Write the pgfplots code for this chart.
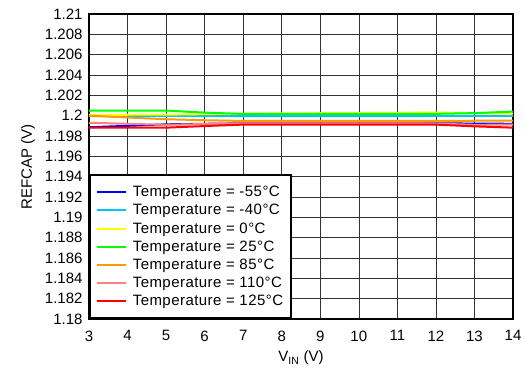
\documentclass[border=0pt]{standalone}
\usepackage{pgfplots}
\pgfplotsset{compat=1.18}
\usepackage{fontspec}
\setmainfont{Liberation Sans}
\definecolor{cBlue}{RGB}{0,0,255}
\definecolor{cCyan}{RGB}{0,195,255}
\definecolor{cYellow}{RGB}{255,255,0}
\definecolor{cGreen}{RGB}{0,255,0}
\definecolor{cOrange}{RGB}{255,153,0}
\definecolor{cPink}{RGB}{255,128,128}
\definecolor{cRed}{RGB}{255,0,0}
\begin{document}
\begin{tikzpicture}
\useasboundingbox (-89pt,-50pt) rectangle (435pt,319pt);
\begin{axis}[
  scale only axis,
  at={(0pt,0pt)}, anchor=south west,
  width=424pt, height=305pt,
  xmin=3, xmax=14, ymin=1.18, ymax=1.21,
  xtick={3,...,14},
  ytick={1.18,1.182,...,1.2101},
  grid=major,
  major grid style={black!80, line width=0.6pt},
  axis line style={line width=1.6pt},
  major tick length=0pt,
  tick label style={font=\fontsize{15}{18}\selectfont},
  xticklabel style={yshift=-8pt},
  yticklabel style={xshift=-3pt},
  /pgf/number format/assume math mode=true,
  /pgf/number format/precision=3,
  xlabel={V\textsubscript{IN} (V)},
  ylabel={REFCAP (V)},
  label style={font=\fontsize{15}{18}\selectfont},
  xlabel style={at={(axis description cs:0.5,0)}, anchor=center, yshift=-39pt},
  ylabel style={at={(axis description cs:0,0.5)}, anchor=center, yshift=61pt},
  legend style={at={(rel axis cs:0,0)}, anchor=south west, draw=black, line width=1.6pt,
    font=\fontsize{15}{17.8}\selectfont\addfontfeature{LetterSpace=3}, inner xsep=6pt, inner ysep=9pt,
    row sep=2.2pt, column sep=4pt, cells={anchor=west}},
  legend cell align=left,
  legend image code/.code={\draw[#1, line width=2pt] (0pt,0pt) -- (29pt,0pt);},
  every axis plot/.append style={line width=2pt},
]
\addplot[cBlue] coordinates {(3,1.19886)(4,1.19900)(5,1.19915)(6,1.19920)(7,1.19925)(8,1.19925)(9,1.19925)(10,1.19925)(11,1.19925)(12,1.19925)(13,1.19922)(14,1.19920)};
\addlegendentry{Temperature = -55°C}
\addplot[cCyan] coordinates {(3,1.19995)(4,1.19996)(5,1.19997)(6,1.19996)(7,1.19995)(8,1.19995)(9,1.19995)(10,1.19996)(11,1.19996)(12,1.19997)(13,1.19998)(14,1.19998)};
\addlegendentry{Temperature = -40°C}
\addplot[cYellow] coordinates {(3,1.20007)(4,1.20009)(5,1.20010)(6,1.20015)(7,1.20020)(8,1.20022)(9,1.20024)(10,1.20026)(11,1.20028)(12,1.20030)(13,1.20025)(14,1.20020)};
\addlegendentry{Temperature = 0°C}
\addplot[cGreen] coordinates {(3,1.20050)(4,1.20050)(5,1.20050)(6,1.20030)(7,1.20017)(8,1.20017)(9,1.20017)(10,1.20017)(11,1.20017)(12,1.20018)(13,1.20025)(14,1.20040)};
\addlegendentry{Temperature = 25°C}
\addplot[cOrange] coordinates {(3,1.20000)(4,1.19982)(5,1.19965)(6,1.19955)(7,1.19948)(8,1.19948)(9,1.19948)(10,1.19948)(11,1.19948)(12,1.19948)(13,1.19950)(14,1.19952)};
\addlegendentry{Temperature = 85°C}
\addplot[cPink] coordinates {(3,1.19930)(4,1.19920)(5,1.19910)(6,1.19918)(7,1.19925)(8,1.19925)(9,1.19925)(10,1.19925)(11,1.19925)(12,1.19922)(13,1.19910)(14,1.19912)};
\addlegendentry{Temperature = 110°C}
\addplot[cRed] coordinates {(3,1.19882)(4,1.19882)(5,1.19882)(6,1.19898)(7,1.19912)(8,1.19912)(9,1.19912)(10,1.19912)(11,1.19912)(12,1.19912)(13,1.19895)(14,1.19882)};
\addlegendentry{Temperature = 125°C}
\end{axis}
\end{tikzpicture}
\end{document}
